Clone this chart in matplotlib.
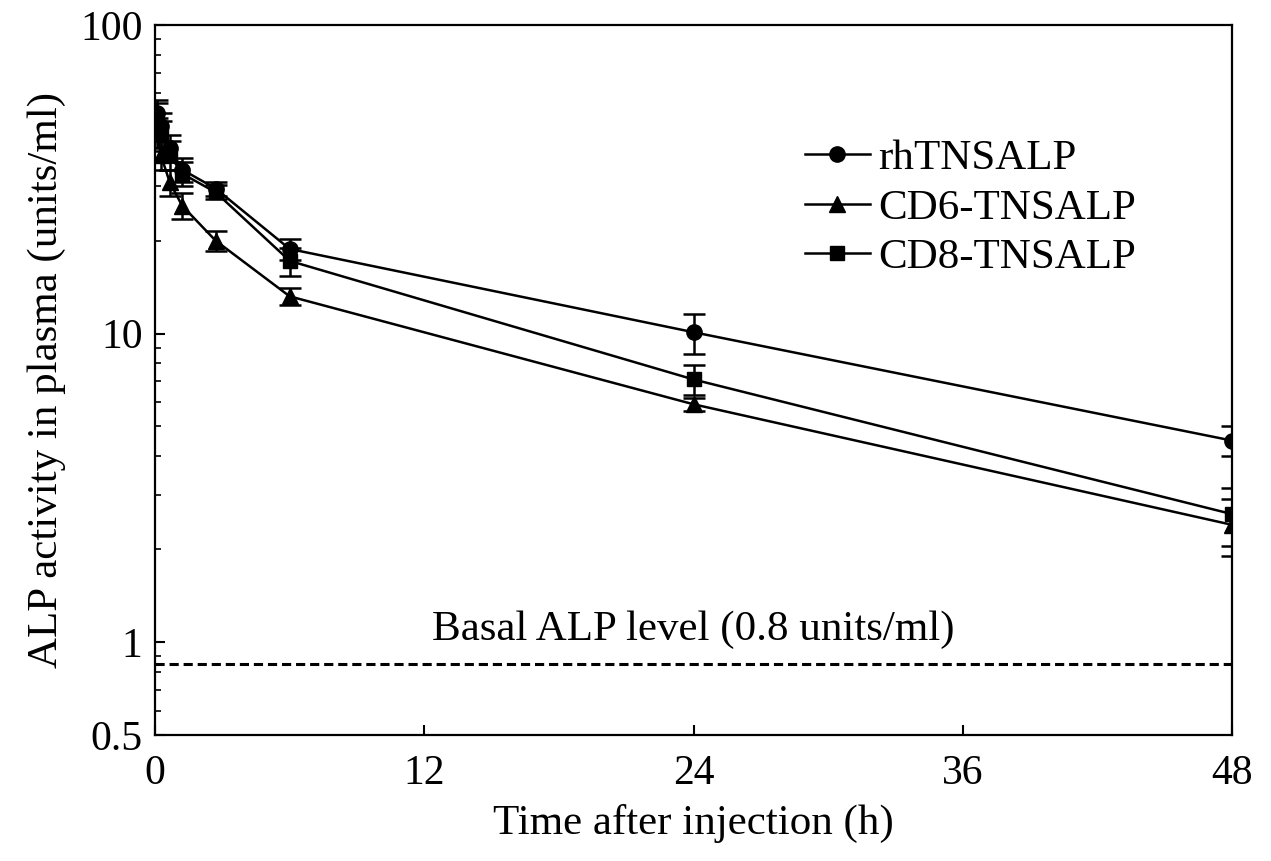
import matplotlib
matplotlib.use("Agg")
import matplotlib.pyplot as plt
from matplotlib.lines import Line2D
from matplotlib.ticker import FixedLocator, FixedFormatter, LogLocator, NullFormatter

plt.rcParams['font.family'] = ['Liberation Serif', 'DejaVu Serif']

# Data
time_h = [0.1, 0.25, 0.65, 1.2, 2.7, 6.0, 24.0, 48.0]
rh_vals = [52, 47, 40, 34, 29.5, 18.8, 10.1, 4.5]
rh_err = [5, 5, 4, 3, 1.5, 1.5, 1.5, 0.5]
cd6_vals = [45, 38, 31, 26, 20, 13.2, 5.9, 2.4]
cd6_err = [5, 4, 3, 2.5, 1.5, 0.8, 0.3, 0.5]
cd8_vals = [50, 44, 38, 33, 28.7, 17.2, 7.1, 2.6]
cd8_err = [6, 5, 4, 3, 1.5, 1.8, 0.8, 0.55]
series_names = ["rhTNSALP", "CD6-TNSALP", "CD8-TNSALP"]
basal_level = 0.85
basal_text = "Basal ALP level (0.8 units/ml)"
x_ticks = [0, 12, 24, 36, 48]
y_ticks = [0.5, 1, 10, 100]
y_tick_labels = ["0.5", "1", "10", "100"]

fig = plt.figure(figsize=(12.71, 8.61), dpi=100)
ax = fig.add_axes([0.122, 0.1463, 0.8473, 0.8247])

markers = ['o', '^', 's']
msizes = [11, 12, 10]
common = dict(color='black', lw=1.8, elinewidth=1.8, capsize=8, capthick=1.8)
for vals, err, m, ms in zip([rh_vals, cd6_vals, cd8_vals], [rh_err, cd6_err, cd8_err], markers, msizes):
    ax.errorbar(time_h, vals, yerr=err, marker=m, ms=ms, **common)

ax.axhline(basal_level, color='black', lw=2.2, ls=(0, (3, 1.6)))
ax.text(24, 1.1, basal_text, ha='center', va='center', fontsize=31)

ax.set_yscale('log')
ax.set_ylim(0.5, 100)
ax.set_xlim(0, 48)
ax.xaxis.set_major_locator(FixedLocator(x_ticks))
ax.yaxis.set_major_locator(FixedLocator(y_ticks))
ax.yaxis.set_major_formatter(FixedFormatter(y_tick_labels))
ax.yaxis.set_minor_locator(LogLocator(base=10, subs=range(2, 10)))
ax.yaxis.set_minor_formatter(NullFormatter())

ax.tick_params(axis='both', which='major', direction='in', length=7, width=1.5,
               labelsize=30)
ax.tick_params(axis='x', which='major', pad=14)
ax.tick_params(axis='y', which='major', pad=9)
ax.tick_params(axis='y', which='minor', direction='in', length=4, width=1.2)
for s in ax.spines.values():
    s.set_linewidth(1.6)

ax.set_xlabel("Time after injection (h)", fontsize=31, labelpad=8)
ax.set_ylabel("ALP activity in plasma (units/ml)", fontsize=31, labelpad=10)

handles = [Line2D([], [], color='black', lw=1.8, marker=m, ms=ms) for m, ms in zip(markers, msizes)]
ax.legend(handles, series_names, loc='upper left', bbox_to_anchor=(0.6035, 0.839), frameon=False,
          fontsize=31, handlelength=1.5, handletextpad=0.2, labelspacing=0.24,
          borderpad=0, borderaxespad=0)

fig.savefig("out.png", dpi=100)
